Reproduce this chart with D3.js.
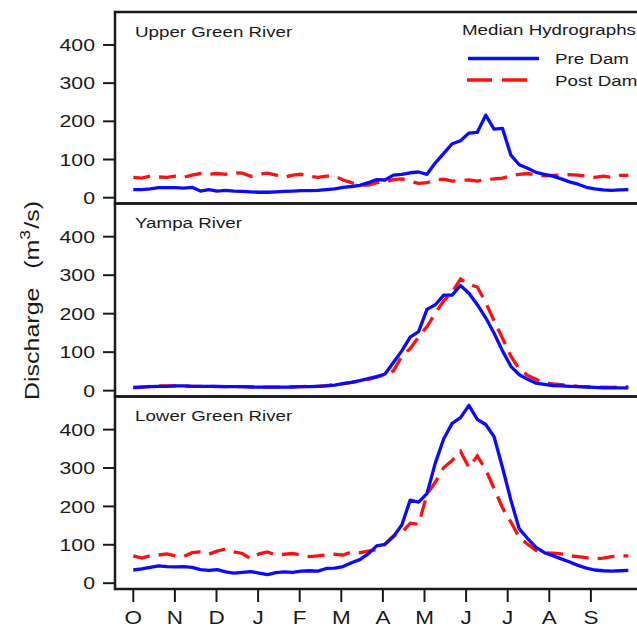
<!DOCTYPE html>
<html>
<head>
<meta charset="utf-8">
<script src="https://cdn.jsdelivr.net/npm/d3@7"></script>
<style>
  body { margin: 0; background: #fff; }
  svg { display: block; }
  text { font-family: "Liberation Sans", Arial, sans-serif; fill: #1a1a1a; }
</style>
</head>
<body>
<script>
// month tick labels (water year, Oct -> Sep)
var monthLabels = ["O", "N", "D", "J", "F", "M", "A", "M", "J", "J", "A", "S"];
var yTicks = [0, 100, 200, 300, 400];
var riverNames = ["Upper Green River", "Yampa River", "Lower Green River"];

// median discharge (m3/s), one value roughly every 6 days from Oct 1
var upperPre = [20, 20, 22, 25, 25, 25, 24, 26, 16, 20, 16, 18, 16, 15, 14, 13, 13, 14, 15, 16,
    17, 17, 18, 20, 22, 26, 28, 31, 38, 46, 45, 58, 60, 64, 66, 60, 90, 115, 140, 148,
    168, 170, 215, 178, 180, 110, 85, 76, 65, 60, 55, 48, 40, 34, 26, 22, 19, 18, 19, 20];
var upperPost = [52, 50, 55, 53, 52, 55, 52, 58, 62, 60, 62, 60, 64, 63, 55, 60, 63, 58, 52, 58,
    60, 55, 52, 55, 55, 45, 38, 32, 32, 38, 40, 46, 48, 42, 36, 38, 45, 47, 42, 44,
    45, 42, 47, 48, 50, 56, 60, 62, 58, 56, 57, 58, 59, 58, 55, 52, 55, 52, 57, 57];
var yampaPre = [7, 8, 9, 10, 10, 11, 11, 10, 10, 10, 10, 9, 9, 9, 8, 8, 8, 8, 8, 8,
    9, 9, 10, 11, 13, 17, 20, 25, 30, 35, 42, 72, 102, 138, 152, 210, 222, 247, 247, 272,
    252, 222, 188, 148, 102, 62, 40, 28, 18, 15, 12, 11, 10, 9, 8, 7, 6, 6, 6, 6];
var yampaPost = [6, 8, 10, 11, 11, 11, 11, 10, 10, 10, 9, 9, 9, 9, 9, 8, 8, 8, 8, 9,
    9, 10, 10, 12, 14, 17, 20, 24, 28, 34, 40, 50, 88, 108, 138, 165, 200, 232, 255, 289,
    275, 268, 228, 180, 135, 88, 55, 38, 28, 20, 16, 14, 12, 10, 9, 8, 8, 7, 8, 9];
var lowerPre = [33, 36, 40, 44, 42, 41, 42, 40, 34, 32, 34, 28, 25, 27, 29, 25, 21, 26, 28, 27,
    30, 31, 30, 37, 38, 42, 52, 60, 75, 96, 100, 120, 150, 215, 210, 232, 312, 375, 415, 430,
    462, 425, 412, 380, 300, 215, 140, 115, 92, 78, 70, 62, 54, 45, 38, 33, 31, 30, 31, 32];
var lowerPost = [70, 64, 70, 72, 75, 70, 68, 78, 80, 74, 82, 88, 80, 76, 62, 75, 80, 72, 74, 76,
    72, 68, 70, 72, 74, 72, 80, 78, 82, 86, 100, 122, 130, 155, 152, 230, 262, 300, 318, 342,
    300, 330, 295, 245, 195, 158, 118, 100, 84, 78, 77, 75, 70, 68, 65, 62, 64, 68, 70, 70];

var preSeries = [upperPre, yampaPre, lowerPre];
var postSeries = [upperPost, yampaPost, lowerPost];

var width = 637,
    height = 627;
var stretch = 1.25;          // the original lettering is wide
var plotLeft = 115, plotRight = 650;
var panelTops = [12, 203.5, 396.5];
var panelBottoms = [203.5, 396.5, 589];
var sampleStep = 11.9 / 59;  // months between samples

var svg = d3.select("body").append("svg")
    .attr("width", width)
    .attr("height", height);

var x = d3.scaleLinear().domain([0, 12]).range([133.3, 632.5]);

var line = function (yScale) {
    return d3.line()
        .x(function (d, i) { return x(i * sampleStep); })
        .y(function (d) { return yScale(d); });
};

riverNames.forEach(function (name, p) {
    var y = d3.scaleLinear().domain([-16.5, 485]).range([panelBottoms[p], panelTops[p]]);
    var g = svg.append("g");

    // y axis ticks and labels
    var yAxis = g.append("g")
        .attr("transform", "translate(" + plotLeft + ",0)")
        .call(d3.axisLeft(y).tickValues(yTicks).tickSize(12).tickPadding(8));
    yAxis.select(".domain").remove();
    yAxis.selectAll("line").attr("stroke", "#1a1a1a").attr("stroke-width", 2);
    yAxis.selectAll("text")
        .attr("x", -20 / stretch)
        .attr("dy", "0.36em")
        .attr("transform", "scale(" + stretch + ",1)")
        .style("font-size", "17px")
        .style("font-family", "'Liberation Sans', Arial, sans-serif")
        .attr("fill", "#1a1a1a");

    // the two hydrographs
    g.append("path")
        .datum(postSeries[p])
        .attr("d", line(y))
        .attr("fill", "none")
        .attr("stroke", "#ff1010")
        .attr("stroke-width", 3.3)
        .attr("stroke-dasharray", "17,9");
    g.append("path")
        .datum(preSeries[p])
        .attr("d", line(y))
        .attr("fill", "none")
        .attr("stroke", "#0a0aff")
        .attr("stroke-width", 3.3)
        .attr("stroke-linejoin", "round");

    // frame
    g.append("rect")
        .attr("x", plotLeft)
        .attr("y", panelTops[p])
        .attr("width", plotRight - plotLeft)
        .attr("height", panelBottoms[p] - panelTops[p])
        .attr("fill", "none")
        .attr("stroke", "#1a1a1a")
        .attr("stroke-width", 2.5);

    // panel title
    g.append("text")
        .attr("transform", "translate(135," + (panelTops[p] + 24.5) + ") scale(" + stretch + ",1)")
        .style("font-size", "15px")
        .text(name);
});

// month axis under the bottom panel
var xAxis = svg.append("g")
    .attr("transform", "translate(0," + panelBottoms[2] + ")")
    .call(d3.axisBottom(x)
        .tickValues(d3.range(12))
        .tickSize(13)
        .tickPadding(6)
        .tickFormat(function (i) { return monthLabels[i]; }));
xAxis.select(".domain").remove();
xAxis.selectAll("line").attr("stroke", "#1a1a1a").attr("stroke-width", 2);
xAxis.selectAll("text")
    .attr("y", 22)
    .attr("dy", "0.71em")
    .attr("transform", "scale(" + stretch + ",1)")
    .attr("x", 0)
    .style("font-size", "18px")
    .style("font-family", "'Liberation Sans', Arial, sans-serif")
    .attr("fill", "#1a1a1a");
xAxis.selectAll(".tick")
    .attr("transform", function (d) { return "translate(" + x(d) + ",0)"; });

// y axis title
var yTitle = svg.append("text")
    .attr("transform", "translate(39,400) rotate(-90) scale(" + stretch + ",1)")
    .style("font-size", "20px");
yTitle.append("tspan").text("Discharge");
yTitle.append("tspan").attr("dx", 15).text("(m");
yTitle.append("tspan").attr("dy", -9).style("font-size", "14px").text("3");
yTitle.append("tspan").attr("dy", 9).attr("dx", 1).text("/s)");

// legend
var legend = svg.append("g");
legend.append("text")
    .attr("transform", "translate(462,35) scale(" + stretch + ",1)")
    .style("font-size", "15px")
    .text("Median Hydrographs");
legend.append("line")
    .attr("x1", 468).attr("x2", 539).attr("y1", 58.5).attr("y2", 58.5)
    .attr("stroke", "#0a0aff").attr("stroke-width", 3.3);
legend.append("line")
    .attr("x1", 467).attr("x2", 529).attr("y1", 80).attr("y2", 80)
    .attr("stroke", "#ff1010").attr("stroke-width", 3.3)
    .attr("stroke-dasharray", "25,10");
legend.append("text")
    .attr("transform", "translate(555,64) scale(" + stretch + ",1)")
    .style("font-size", "15px")
    .text("Pre Dam");
legend.append("text")
    .attr("transform", "translate(555,86) scale(" + stretch + ",1)")
    .style("font-size", "15px")
    .text("Post Dam");
</script>
</body>
</html>
